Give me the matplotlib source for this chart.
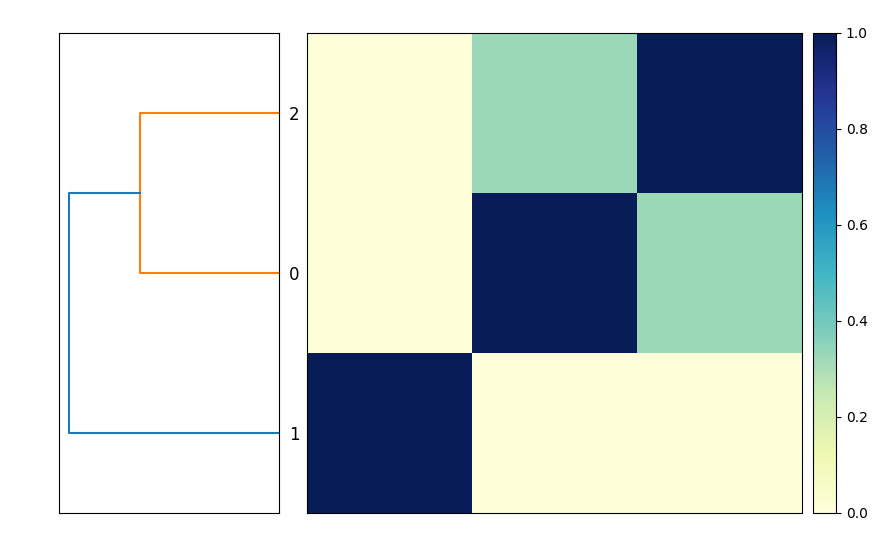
import numpy as np
import matplotlib
matplotlib.use("Agg")
import matplotlib.pyplot as plt

# similarity matrix between items 0, 1, 2
items = ["0", "1", "2"]
sim = np.array([
    [1.0, 0.0, 0.325],
    [0.0, 1.0, 0.0],
    [0.325, 0.0, 1.0],
])
# linkage: (left, right, distance) ; new clusters get ids 3, 4, ...
links = [(0, 2, 0.665), (1, 3, 1.0)]
leaf_order = [1, 0, 2]
threshold = 0.7

fig = plt.figure(figsize=(8.9, 5.55), dpi=100)
W, H = 890, 555
ax_d = fig.add_axes([59 / W, 1 - 513 / H, 220 / W, 480 / H])
ax_h = fig.add_axes([307 / W, 1 - 513 / H, 495 / W, 480 / H])
ax_c = fig.add_axes([813 / W, 1 - 513 / H, 23 / W, 480 / H])

# dendrogram (leaves on the right, root on the left)
pos = {leaf: 5 + 10 * i for i, leaf in enumerate(leaf_order)}
height = {leaf: 0.0 for leaf in leaf_order}
for k, (a, b, d) in enumerate(links):
    new = len(items) + k
    color = "C1" if d < threshold else "C0"
    ax_d.plot([height[a], d, d, height[b]], [pos[a], pos[a], pos[b], pos[b]],
              color=color, lw=1.5)
    pos[new] = (pos[a] + pos[b]) / 2
    height[new] = d
dmax = max(d for _, _, d in links)
ax_d.set_xlim(dmax * 1.05, 0)
ax_d.set_ylim(0, 10 * len(items))
ax_d.set_xticks([])
ax_d.yaxis.set_ticks_position("right")
ax_d.set_yticks([pos[l] for l in leaf_order])
ax_d.set_yticklabels([items[l] for l in leaf_order], fontsize=12)
ax_d.tick_params(axis="y", length=0, pad=7)

# heatmap, rows/cols in dendrogram order
ordered = sim[np.ix_(leaf_order, leaf_order)]
im = ax_h.imshow(ordered, cmap="YlGnBu", vmin=0, vmax=1, origin="lower",
                 aspect="auto", interpolation="nearest")
ax_h.set_xticks([])
ax_h.set_yticks([])

cb = fig.colorbar(im, cax=ax_c)
cb.set_ticks([0.0, 0.2, 0.4, 0.6, 0.8, 1.0])

fig.savefig("out.png", dpi=100)
